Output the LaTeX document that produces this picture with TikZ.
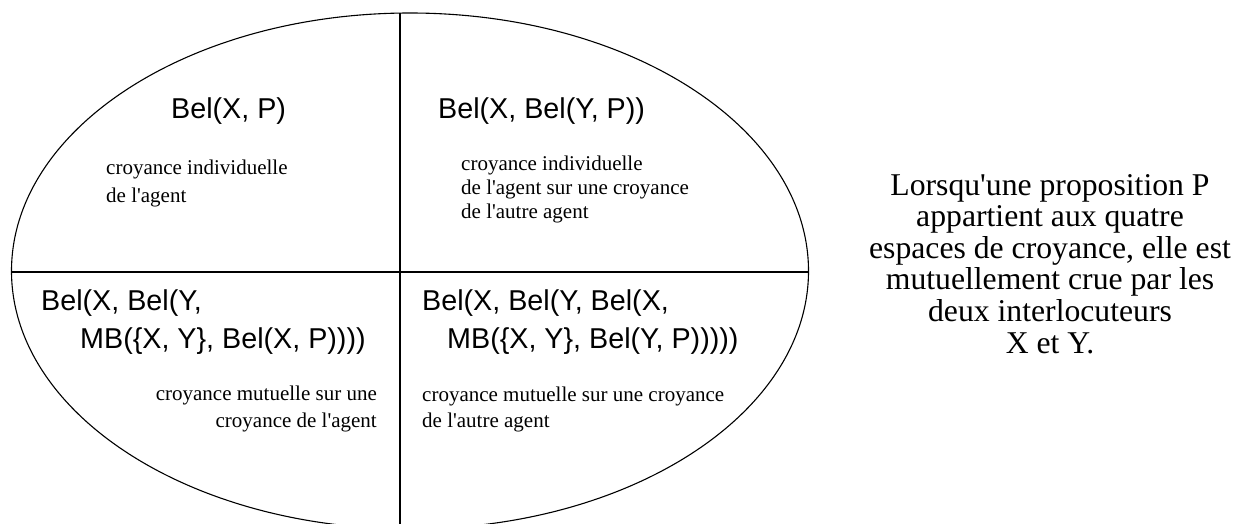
\documentclass[tikz,border=0pt]{standalone}
\usepackage{fontspec}
\setmainfont{Liberation Serif}
\setsansfont{Liberation Sans}
\newcommand{\sq}{\textquotesingle}
\begin{document}
\begin{tikzpicture}[x=1pt,y=-1pt,
  formula/.style={inner sep=0pt,anchor=base west,font=\sffamily\fontsize{28.7}{34}\selectfont},
  note/.style={inner sep=0pt,anchor=base west,font=\rmfamily\fontsize{21}{26}\selectfont},
  noteR/.style={inner sep=0pt,anchor=base east,font=\rmfamily\fontsize{21}{26}\selectfont},
  side/.style={inner sep=0pt,anchor=base,font=\rmfamily\fontsize{31.7}{34}\selectfont},
  border/.style={draw=black,line width=1.1pt}]
\useasboundingbox (0,0) rectangle (1239,524);
\coordinate (c) at (410,271);
\coordinate (top) at (400,13.1);
\coordinate (bot) at (400,524);
\coordinate (left) at (11.5,272);
\coordinate (right) at (808.5,272);
\draw[border] (c) ellipse [x radius=398.5, y radius=258];
\draw[border] (top) -- (bot);
\draw[border] (left) -- (right);
% top left
\node[formula] (f1) at (171,119) {Bel(X, P)};
\node[note] (n1a) at (106,175) {croyance individuelle};
\node[note] (n1b) at (106,202) {de l\sq agent};
% top right
\node[formula] (f2) at (438,119) {Bel(X, Bel(Y, P))};
\node[note] (n2a) at (461,170) {croyance individuelle};
\node[note] (n2b) at (461,194) {de l\sq agent sur une croyance};
\node[note] (n2c) at (461,218) {de l\sq autre agent};
% bottom left
\node[formula] (f3a) at (41,310) {Bel(X, Bel(Y,};
\node[formula] (f3b) at (80,348) {MB(\{X, Y\}, Bel(X, P))))};
\node[noteR] (n3a) at (377,400) {croyance mutuelle sur une};
\node[noteR] (n3b) at (377,427) {croyance de l\sq agent};
% bottom right
\node[formula] (f4a) at (422,310) {Bel(X, Bel(Y, Bel(X,};
\node[formula] (f4b) at (447,348) {MB(\{X, Y\}, Bel(Y, P)))))};
\node[note] (n4a) at (422,401) {croyance mutuelle sur une croyance};
\node[note] (n4b) at (422,427) {de l\sq autre agent};
% side text
\node[side] (s1) at (1050,195) {Lorsqu\sq une proposition P};
\node[side] (s2) at (1050,226.6) {appartient aux quatre};
\node[side] (s3) at (1050,258.2) {espaces de croyance, elle est};
\node[side] (s4) at (1050,289.8) {mutuellement crue par les};
\node[side] (s5) at (1050,321.4) {deux interlocuteurs};
\node[side] (s6) at (1050,353) {X et Y.};
\end{tikzpicture}
\end{document}
